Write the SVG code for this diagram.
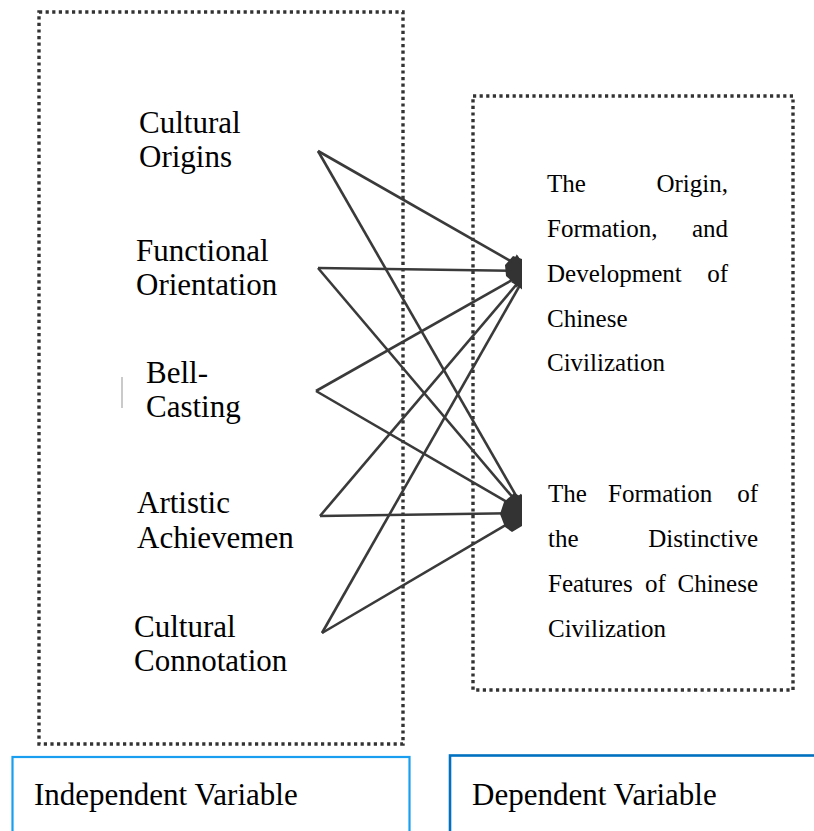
<svg xmlns="http://www.w3.org/2000/svg" width="814" height="831" viewBox="0 0 814 831">
  <style>
    .dotbox { fill: none; stroke: #333; stroke-width: 3.4; stroke-dasharray: 3.2 3.4; }
    .lbl { font-size: 31px; fill: #000; }
    .dep { font-size: 25px; fill: #000; }
    .edge { stroke: #3a3a3a; stroke-width: 2.6; fill: none; marker-end: url(#head); }
    .hub { fill: #333; }
    .legend-l { fill: none; stroke: #1a9ff0; stroke-width: 2.2; }
    .legend-r { fill: none; stroke: #0070c0; stroke-width: 2.6; }
  </style>
  <defs>
    <marker id="head" viewBox="0 0 10 10" refX="10" refY="5" markerUnits="userSpaceOnUse" markerWidth="22" markerHeight="18" orient="auto">
      <path d="M0,0 L10,5 L0,10 z" fill="#333"/>
    </marker>
    <clipPath id="clipEdges">
      <rect x="0" y="0" width="522" height="831"/>
    </clipPath>
  </defs>
  <rect width="814" height="831" fill="#fff"/>

  <g id="independent-box">
    <rect class="dotbox" x="39" y="12" width="364" height="732"/>
  </g>
  <g id="dependent-box">
    <rect class="dotbox" x="473" y="96" width="320" height="594"/>
  </g>

  <g id="connectors" clip-path="url(#clipEdges)">
    <line class="edge" x1="318" y1="151" x2="528" y2="271"/>
    <line class="edge" x1="318" y1="268" x2="528" y2="271"/>
    <line class="edge" x1="316" y1="391" x2="528" y2="271"/>
    <line class="edge" x1="320" y1="516" x2="528" y2="271"/>
    <line class="edge" x1="322" y1="633" x2="528" y2="271"/>
    <line class="edge" x1="318" y1="151" x2="526" y2="513"/>
    <line class="edge" x1="318" y1="268" x2="526" y2="513"/>
    <line class="edge" x1="316" y1="391" x2="526" y2="513"/>
    <line class="edge" x1="320" y1="516" x2="526" y2="513"/>
    <line class="edge" x1="322" y1="633" x2="526" y2="513"/>
    <path class="hub" d="M513,256 L522,259 L522,284 L513,282 L506,276 L505,265 Z"/>
    <path class="hub" d="M514,493 L522,497 L522,526 L512,532 L505,527 L500,514 L504,502 Z"/>
  </g>

  <g id="cultural-origins" font-family="Liberation Serif, Times New Roman, Times, serif">
    <text class="lbl" x="139" y="133">Cultural</text>
    <text class="lbl" x="139" y="167">Origins</text>
  </g>
  <g id="functional-orientation" font-family="Liberation Serif, Times New Roman, Times, serif">
    <text class="lbl" x="136" y="261">Functional</text>
    <text class="lbl" x="136" y="295">Orientation</text>
  </g>
  <g id="bell-casting" font-family="Liberation Serif, Times New Roman, Times, serif">
    <line x1="122" y1="377" x2="122" y2="408" stroke="#b8b8b8" stroke-width="1.5"/>
    <text class="lbl" x="146" y="383">Bell-</text>
    <text class="lbl" x="146" y="417">Casting</text>
  </g>
  <g id="artistic-achievement" font-family="Liberation Serif, Times New Roman, Times, serif">
    <text class="lbl" x="137" y="513">Artistic</text>
    <text class="lbl" x="137" y="548">Achievemen</text>
  </g>
  <g id="cultural-connotation" font-family="Liberation Serif, Times New Roman, Times, serif">
    <text class="lbl" x="134" y="637">Cultural</text>
    <text class="lbl" x="134" y="671">Connotation</text>
  </g>

  <g id="origin-formation-development" font-family="Liberation Serif, Times New Roman, Times, serif">
    <text class="dep" x="547" y="192">The</text>
    <text class="dep" x="728" y="192" text-anchor="end">Origin,</text>
    <text class="dep" x="547" y="237">Formation,</text>
    <text class="dep" x="728" y="237" text-anchor="end">and</text>
    <text class="dep" x="547" y="282">Development</text>
    <text class="dep" x="728" y="282" text-anchor="end">of</text>
    <text class="dep" x="547" y="327">Chinese</text>
    <text class="dep" x="547" y="371">Civilization</text>
  </g>
  <g id="distinctive-features" font-family="Liberation Serif, Times New Roman, Times, serif">
    <text class="dep" x="548" y="502">The</text>
    <text class="dep" x="608" y="502">Formation</text>
    <text class="dep" x="758" y="502" text-anchor="end">of</text>
    <text class="dep" x="548" y="547">the</text>
    <text class="dep" x="758" y="547" text-anchor="end">Distinctive</text>
    <text class="dep" x="548" y="592">Features</text>
    <text class="dep" x="645" y="592">of</text>
    <text class="dep" x="758" y="592" text-anchor="end">Chinese</text>
    <text class="dep" x="548" y="637">Civilization</text>
  </g>

  <g id="legend-independent" font-family="Liberation Serif, Times New Roman, Times, serif">
    <rect class="legend-l" x="12.5" y="757" width="397" height="100"/>
    <text class="lbl" x="34" y="805">Independent Variable</text>
  </g>
  <g id="legend-dependent" font-family="Liberation Serif, Times New Roman, Times, serif">
    <rect class="legend-r" x="450" y="755.5" width="400" height="100"/>
    <text class="lbl" x="472" y="805">Dependent Variable</text>
  </g>
</svg>
